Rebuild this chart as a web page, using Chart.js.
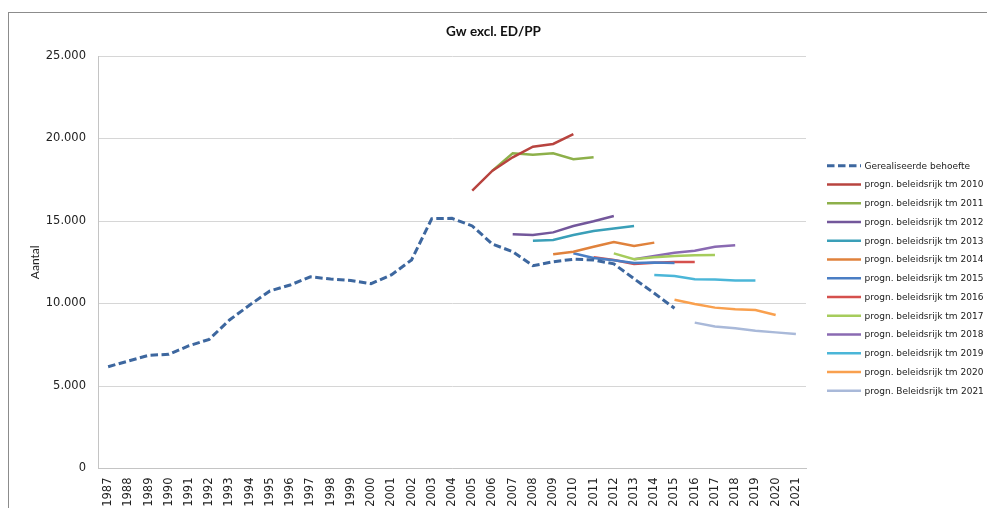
<!DOCTYPE html>
<html><head><meta charset="utf-8">
<script src="https://cdn.jsdelivr.net/npm/chart.js@4.4.1/dist/chart.umd.min.js"></script>
<style>
html,body{margin:0;padding:0;background:#fff;overflow:hidden;width:987px;height:508px;}
#frame{position:absolute;left:8px;top:12px;width:990px;height:520px;border-left:1px solid #8c8c8c;border-top:1px solid #8c8c8c;}
canvas{position:absolute;left:0;top:0;}
</style></head><body>
<div id="frame"></div>
<canvas id="c" width="987" height="508"></canvas>
<script>
const years = ['1987','1988','1989','1990','1991','1992','1993','1994','1995','1996','1997','1998','1999','2000','2001','2002','2003','2004','2005','2006','2007','2008','2009','2010','2011','2012','2013','2014','2015','2016','2017','2018','2019','2020','2021'];
const yTicks = [0, 5000, 10000, 15000, 20000, 25000];

const realised = [6170,6515,6860,6920,7440,7830,9000,9910,10760,11120,11620,11480,11400,11200,11730,12640,15140,15160,14700,13600,13140,12290,12530,12680,12640,12400,11500,10620,9710];
const prog2010 = [16840,18050,18860,19500,19670,20270];
const prog2011 = [18050,19100,19020,19100,18740,18860];
const prog2012 = [14190,14150,14310,14700,14980,15300];
const prog2013 = [13810,13850,14150,14390,14550,14700];
const prog2014 = [12980,13140,13440,13730,13480,13690];
const prog2015 = [13040,12760,12620,12450,12480,12460];
const prog2016 = [12800,12640,12390,12470,12510,12510];
const prog2017 = [13040,12680,12800,12880,12920,12940];
const prog2018 = [12680,12880,13080,13200,13440,13530];
const prog2019 = [11730,11670,11470,11450,11400,11400];
const prog2020 = [10230,9970,9750,9650,9610,9300];
const prog2021 = [8840,8600,8500,8350,8250,8150];

const seriesNames = ['Gerealiseerde behoefte','progn. beleidsrijk tm 2010','progn. beleidsrijk tm 2011','progn. beleidsrijk tm 2012','progn. beleidsrijk tm 2013','progn. beleidsrijk tm 2014','progn. beleidsrijk tm 2015','progn. beleidsrijk tm 2016','progn. beleidsrijk tm 2017','progn. beleidsrijk tm 2018','progn. beleidsrijk tm 2019','progn. beleidsrijk tm 2020','progn. Beleidsrijk tm 2021'];
const seriesStart = ['1987','2005','2006','2007','2008','2009','2010','2011','2012','2013','2014','2015','2016'];
const seriesValues = [realised,prog2010,prog2011,prog2012,prog2013,prog2014,prog2015,prog2016,prog2017,prog2018,prog2019,prog2020,prog2021];
const seriesColors = ['#3D679F','#B8443F','#8DB04A','#73579B','#3A9FB8','#E0823C','#4A7EC4','#D5504D','#A6CC5C','#8A6AB2','#4BB6D8','#F9A04E','#A9B9D9'];

function padSeries(start, vals){
  const out = years.map(() => null);
  const s = years.indexOf(start);
  vals.forEach((v,i) => { out[s+i] = v; });
  return out;
}
function fmt(v){ return v === 0 ? '0' : String(v).replace(/\B(?=(\d{3})+(?!\d))/g, '.'); }

const datasets = seriesNames.map((name,i) => ({
  label: name,
  data: padSeries(seriesStart[i], seriesValues[i]),
  borderColor: seriesColors[i],
  backgroundColor: seriesColors[i],
  borderWidth: i === 0 ? 3 : 2.5,
  borderDash: i === 0 ? [7.5,3.5] : [],
  pointRadius: 0,
  tension: 0,
  fill: false,
  spanGaps: false
}));
datasets[0].order = -1;

const sideLegend = {
  id: 'sideLegend',
  afterDraw(chart){
    const ctx = chart.ctx;
    ctx.save();
    ctx.font = '9px "DejaVu Sans"';
    ctx.textBaseline = 'middle';
    ctx.fillStyle = '#1a1a1a';
    chart.data.datasets.forEach((ds,i) => {
      const y = 165.7 + i*18.75;
      ctx.beginPath();
      ctx.strokeStyle = ds.borderColor;
      ctx.lineWidth = ds.borderWidth;
      ctx.setLineDash(ds.borderDash || []);
      ctx.moveTo(827, y); ctx.lineTo(861, y);
      ctx.stroke();
      ctx.setLineDash([]);
      ctx.fillText(ds.label, 864.5, y + 0.5);
    });
    ctx.restore();
  }
};

new Chart(document.getElementById('c'), {
  type: 'line',
  data: { labels: years, datasets },
  options: {
    responsive: false,
    animation: false,
    devicePixelRatio: 1,
    layout: { padding: 0 },
    plugins: {
      legend: { display: false },
      tooltip: { enabled: false },
      title: {
        display: true,
        text: 'Gw excl. ED/PP',
        color: '#111',
        font: { family: 'Lato', weight: 'bold', size: 13.5 },
        padding: { top: 24, bottom: 15.8 }
      }
    },
    scales: {
      x: {
        type: 'category',
        offset: true,
        grid: { display: false, drawTicks: false },
        border: { display: true, color: '#c4c4c4', width: 1 },
        ticks: {
          autoSkip: false, maxRotation: 90, minRotation: 90, padding: 9,
          color: '#222', font: { family: 'DejaVu Sans', size: 11.5 }
        },
        afterFit(s){ s.height = 39.5; }
      },
      y: {
        min: 0, max: 25000,
        afterBuildTicks(s){ s.ticks = yTicks.map(v => ({ value: v })); },
        grid: { color: '#d6d6d6', lineWidth: 1, drawTicks: false },
        border: { display: true, color: '#c4c4c4', width: 1 },
        ticks: { padding: 12, color: '#222', font: { family: 'DejaVu Sans', size: 11.5 }, callback: v => fmt(v) },
        title: { display: true, text: 'Aantal', color: '#222', font: { family: 'Lato', size: 12 }, padding: { top: 27.5, bottom: 0 } },
        afterFit(s){ s.width = 98; }
      },
      yR: {
        position: 'right',
        display: true,
        grid: { display: false, drawTicks: false },
        border: { display: false },
        ticks: { display: false },
        afterFit(s){ s.width = 181; }
      }
    }
  },
  plugins: [sideLegend]
});
</script>
</body></html>
